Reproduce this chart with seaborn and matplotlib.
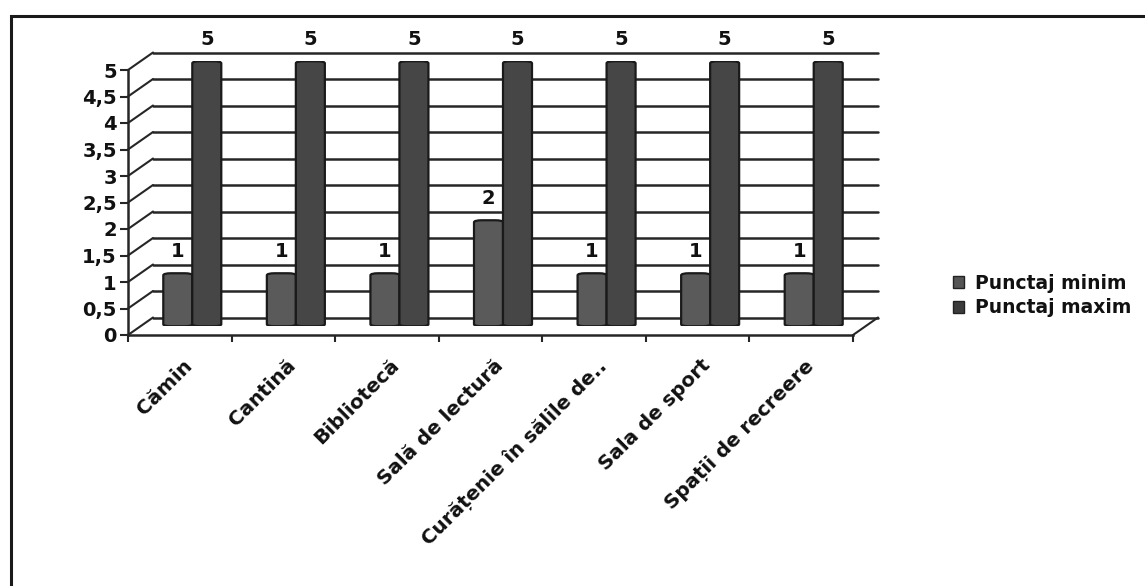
import numpy as np
import pandas as pd
import seaborn as sns
import matplotlib
matplotlib.use("Agg")
import matplotlib.pyplot as plt
from matplotlib.lines import Line2D
from matplotlib.patches import Patch, Rectangle, FancyBboxPatch
from matplotlib.transforms import ScaledTranslation

categories = ["Cămin", "Cantină", "Bibliotecă", "Sală de lectură",
              "Curățenie în sălile de..", "Sala de sport", "Spații de recreere"]
series_names = ["Punctaj minim", "Punctaj maxim"]
punctaj_minim = [1, 1, 1, 2, 1, 1, 1]
punctaj_maxim = [5, 5, 5, 5, 5, 5, 5]
y_ticks = [0, 0.5, 1, 1.5, 2, 2.5, 3, 3.5, 4, 4.5, 5]
y_tick_labels = ["0", "0,5", "1", "1,5", "2", "2,5", "3", "3,5", "4", "4,5", "5"]

df = pd.DataFrame({
    "categorie": categories * 2,
    "serie": [series_names[0]] * len(categories) + [series_names[1]] * len(categories),
    "valoare": punctaj_minim + punctaj_maxim,
})

sns.set_theme(style="white")
plt.rcParams["font.family"] = ["DejaVu Sans"]
plt.rcParams["font.weight"] = "bold"
FS = 14

W, H = 1145, 586
fig = plt.figure(figsize=(W / 100, H / 100), dpi=100)

x0, x1 = 128, 853
y0_top, y0_bot = 70, 335
DX, DY = 25, 17.5


def pos(dx, dy):
    return [(x0 + dx) / W, (H - y0_bot + dy) / H, (x1 - x0) / W, (y0_bot - y0_top) / H]


ax_back = fig.add_axes(pos(DX, DY))
ax_front = fig.add_axes(pos(0, 0))
ax_bar = fig.add_axes(pos(DX / 2, DY / 2))

n = len(categories)
for a in (ax_back, ax_front, ax_bar):
    a.set_xlim(-0.5, n - 0.5)
    a.set_ylim(0, 5)
    a.patch.set_alpha(0)

line_col = "#262626"
txt_col = "#111111"

ax_back.set_axis_off()
for v in y_ticks:
    ax_back.axhline(v, color=line_col, lw=1.8, zorder=1, clip_on=False)

for s in ["top", "right"]:
    ax_front.spines[s].set_visible(False)
for s in ["left", "bottom"]:
    ax_front.spines[s].set_color(line_col)
    ax_front.spines[s].set_linewidth(1.8)
ax_front.set_yticks(y_ticks)
ax_front.set_yticklabels(y_tick_labels, fontsize=FS, fontweight="bold", color=txt_col)
ax_front.tick_params(axis="y", direction="out", length=6, width=1.5, color=line_col, pad=2, left=True)
ax_front.set_xticks(range(n))
ax_front.set_xticklabels(categories, rotation=45, ha="right", rotation_mode="anchor",
                         fontsize=14.3, fontweight="bold", color=txt_col)
ax_front.set_xticks(np.arange(-0.5, n, 1.0), minor=True)
ax_front.tick_params(axis="x", which="major", length=0, pad=15)
ax_front.tick_params(axis="x", which="minor", direction="out", length=5, width=1.5,
                     color=line_col, bottom=True)
for lab in ax_front.get_xticklabels():
    lab.set_transform(lab.get_transform() + ScaledTranslation(0.03, 0.0, fig.dpi_scale_trans))

fig.canvas.draw()
inv = fig.transFigure.inverted()
for v in y_ticks:
    p_front = inv.transform(ax_front.transData.transform((-0.5, v)))
    p_back = inv.transform(ax_back.transData.transform((-0.5, v)))
    fig.add_artist(Line2D([p_front[0], p_back[0]], [p_front[1], p_back[1]],
                          color=line_col, lw=1.5, transform=fig.transFigure))
pf = inv.transform(ax_front.transData.transform((n - 0.5, 0)))
pb = inv.transform(ax_back.transData.transform((n - 0.5, 0)))
fig.add_artist(Line2D([pf[0], pb[0]], [pf[1], pb[1]], color=line_col, lw=1.5,
                      transform=fig.transFigure))

sns.barplot(data=df, x="categorie", y="valoare", hue="serie", ax=ax_bar,
            palette=["#5a5a5a", "#464646"], width=0.56, edgecolor="#1a1a1a",
            linewidth=1.6, saturation=1, legend=False, order=categories)
ax_bar.set_xlim(-0.5, n - 0.5)
ax_bar.set_ylim(0, 5)
ax_bar.set_axis_off()
for cont in ax_bar.containers:
    ax_bar.bar_label(cont, fmt="%d", padding=9, fontsize=FS, fontweight="bold", color=txt_col)

# rounded (cylinder-like) ends for the bars
px_x = (x1 - x0) / n
px_y = (y0_bot - y0_top) / 5
aspect = px_x / px_y
for rect in list(ax_bar.patches):
    bx, by = rect.get_x(), rect.get_y()
    bw, bh = rect.get_width(), rect.get_height()
    rounded = FancyBboxPatch((bx, by), bw, bh,
                             boxstyle=f"round,pad=0,rounding_size={8 / px_x}",
                             mutation_aspect=1 / aspect,
                             facecolor=rect.get_facecolor(), edgecolor="#1a1a1a",
                             linewidth=1.6, zorder=rect.get_zorder())
    ax_bar.add_patch(rounded)
    rect.set_visible(False)

handles = [Patch(facecolor="#555555", edgecolor="#222222"),
           Patch(facecolor="#3c3c3c", edgecolor="#222222")]
leg = fig.legend(handles, series_names, loc="upper left",
                 bbox_to_anchor=(949 / W, 1 - 270 / H), frameon=False,
                 handlelength=0.6, handleheight=0.6, borderaxespad=0, borderpad=0.2,
                 handletextpad=0.6, labelspacing=0.3,
                 prop={"weight": "bold", "size": 13.5})
for t in leg.get_texts():
    t.set_color(txt_col)

fig.add_artist(Rectangle((11 / W, -0.05), 1.2, 1 - 16 / H + 0.05, fill=False,
                         edgecolor="#1a1a1a", lw=2.2, transform=fig.transFigure))

fig.savefig("out.png", dpi=100)
